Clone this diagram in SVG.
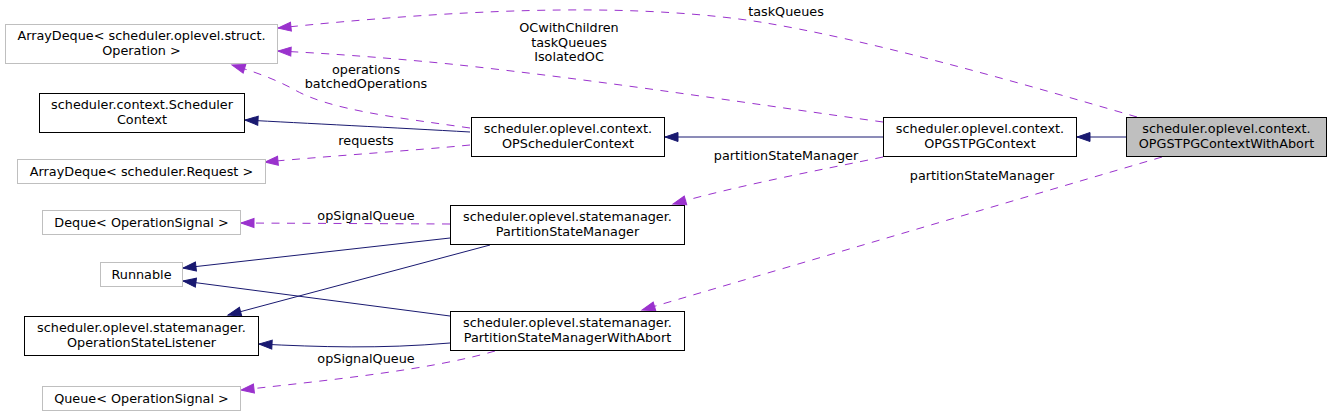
<svg xmlns="http://www.w3.org/2000/svg" width="1332" height="417" viewBox="0 0 1332 417">
<style>
text{font-family:"DejaVu Sans","Liberation Sans",sans-serif;font-size:12.8px;fill:#000;text-anchor:middle}
.n rect{fill:#fff;stroke:#000;stroke-width:1}
.g rect{fill:#fff;stroke:#bfbfbf;stroke-width:1}
.cur rect{fill:#bfbfbf;stroke:#000;stroke-width:1}
.inh{fill:none;stroke:#191970;stroke-width:1;marker-end:url(#ab)}
.use{fill:none;stroke:#9a32cd;stroke-width:1;stroke-dasharray:8,7.5;marker-end:url(#ap)}
</style>
<defs>
<marker id="ab" markerUnits="userSpaceOnUse" markerWidth="14" markerHeight="10" refX="13" refY="5" orient="auto" overflow="visible"><path d="M0,0.5 L13,5 L0,9.5 z" fill="#191970" stroke="#191970"/></marker>
<marker id="ap" markerUnits="userSpaceOnUse" markerWidth="14" markerHeight="10" refX="13" refY="5" orient="auto" overflow="visible"><path d="M0,0.5 L13,5 L0,9.5 z" fill="#9a32cd" stroke="#9a32cd"/></marker>
</defs>
<g id="edges">
<path class="use" d="M1137,117 C1010,80 870,40 760,22 C650,5 500,5 278,28"/>
<path class="use" d="M883,122 C780,108 600,80 450,64 C380,57 320,53 278,51"/>
<path class="use" d="M470,128 C400,118 330,110 295,90 C275,79 255,72 232,65"/>
<path class="inh" d="M470,132 C400,128 300,123 245,120"/>
<path class="use" d="M470,145 C420,150 330,156 265,162"/>
<path class="inh" d="M883,137 L665,137"/>
<path class="inh" d="M1126,137 L1077,137"/>
<path class="use" d="M883,157 C820,170 740,185 673,204"/>
<path class="use" d="M1162,157 L642,310"/>
<path class="use" d="M450,224 L241,223"/>
<path class="inh" d="M450,238 L183,268"/>
<path class="inh" d="M490,245 L228,315"/>
<path class="inh" d="M450,316 L183,281"/>
<path class="inh" d="M450,343 C380,349 320,347 259,344"/>
<path class="use" d="M495,351 C430,370 330,380 241,390"/>
<text x="786" y="16">taskQueues</text>
<text x="569" y="32">OCwithChildren</text>
<text x="569" y="46.5">taskQueues</text>
<text x="569" y="61">IsolatedOC</text>
<text x="366" y="73.5">operations</text>
<text x="366" y="88">batchedOperations</text>
<text x="366" y="145">requests</text>
<text x="786" y="159.5">partitionStateManager</text>
<text x="982" y="179.5">partitionStateManager</text>
<text x="366" y="220">opSignalQueue</text>
<text x="366" y="362.5">opSignalQueue</text>
</g>
<g id="ArrayDequeOperation" class="g"><rect x="5.5" y="24.5" width="272" height="39"/><text x="141.5" y="40">ArrayDeque&lt; scheduler.oplevel.struct.</text><text x="141.5" y="55">Operation &gt;</text></g>
<g id="SchedulerContext" class="n"><rect x="39.5" y="93.5" width="205" height="39"/><text x="142" y="109">scheduler.context.Scheduler</text><text x="142" y="124">Context</text></g>
<g id="ArrayDequeRequest" class="g"><rect x="17.5" y="159.5" width="248" height="24"/><text x="141.5" y="175.5">ArrayDeque&lt; scheduler.Request &gt;</text></g>
<g id="OPSchedulerContext" class="n"><rect x="471.5" y="117.5" width="193" height="39"/><text x="568" y="133">scheduler.oplevel.context.</text><text x="568" y="148">OPSchedulerContext</text></g>
<g id="OPGSTPGContext" class="n"><rect x="883.5" y="117.5" width="193" height="39"/><text x="980" y="133">scheduler.oplevel.context.</text><text x="980" y="148">OPGSTPGContext</text></g>
<g id="OPGSTPGContextWithAbort" class="cur"><rect x="1126.5" y="117.5" width="200" height="39"/><text x="1226.5" y="133">scheduler.oplevel.context.</text><text x="1226.5" y="148">OPGSTPGContextWithAbort</text></g>
<g id="DequeOperationSignal" class="g"><rect x="42.5" y="210.5" width="198" height="24"/><text x="141.5" y="226.5">Deque&lt; OperationSignal &gt;</text></g>
<g id="Runnable" class="g"><rect x="100.5" y="262.5" width="82" height="24"/><text x="141.5" y="278.5">Runnable</text></g>
<g id="OperationStateListener" class="n"><rect x="24.5" y="316.5" width="234" height="39"/><text x="141.5" y="332">scheduler.oplevel.statemanager.</text><text x="141.5" y="347">OperationStateListener</text></g>
<g id="QueueOperationSignal" class="g"><rect x="42.5" y="386.5" width="198" height="24"/><text x="141.5" y="402.5">Queue&lt; OperationSignal &gt;</text></g>
<g id="PartitionStateManager" class="n"><rect x="450.5" y="205.5" width="234" height="39"/><text x="567.5" y="221">scheduler.oplevel.statemanager.</text><text x="567.5" y="236">PartitionStateManager</text></g>
<g id="PartitionStateManagerWithAbort" class="n"><rect x="450.5" y="311.5" width="234" height="39"/><text x="567.5" y="327">scheduler.oplevel.statemanager.</text><text x="567.5" y="342">PartitionStateManagerWithAbort</text></g>
</svg>
